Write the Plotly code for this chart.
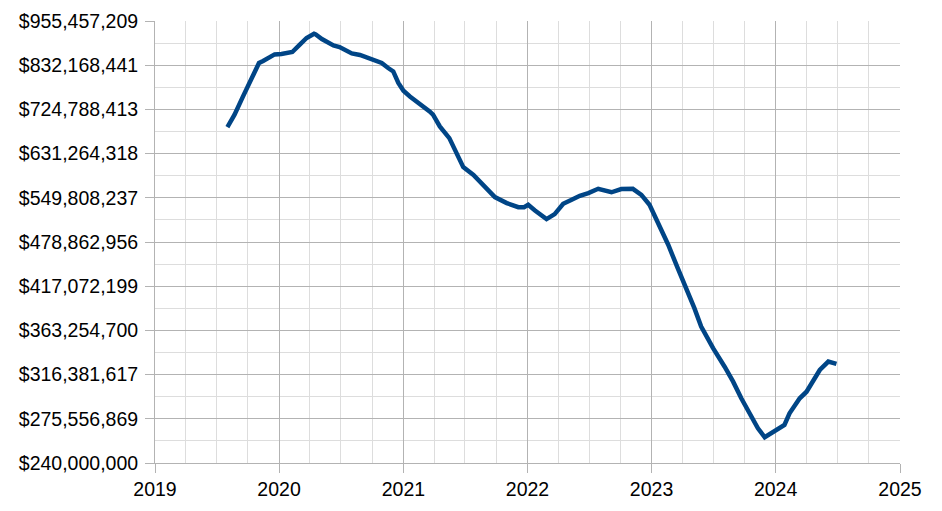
import plotly.graph_objects as go
import math

dates = [
    "2019-08-02", "2019-08-23", "2019-09-17", "2019-10-12", "2019-11-03", "2019-11-15",
    "2019-11-30", "2019-12-19", "2020-01-08", "2020-01-27", "2020-02-09", "2020-03-02",
    "2020-03-22", "2020-04-13", "2020-04-18", "2020-05-06", "2020-05-20", "2020-06-09",
    "2020-06-27", "2020-07-13", "2020-08-02", "2020-08-26", "2020-09-15", "2020-10-04",
    "2020-10-29", "2020-11-17", "2020-12-02", "2020-12-17", "2021-01-01", "2021-01-20",
    "2021-02-19", "2021-03-19", "2021-03-29", "2021-04-18", "2021-05-16", "2021-06-07",
    "2021-06-26", "2021-07-26", "2021-08-24", "2021-09-27", "2021-11-01", "2021-12-05",
    "2021-12-22", "2022-01-03", "2022-01-23", "2022-02-26", "2022-03-22", "2022-04-16",
    "2022-05-11", "2022-06-04", "2022-06-29", "2022-07-28", "2022-09-05", "2022-10-04",
    "2022-11-07", "2022-12-02", "2022-12-26", "2023-01-20", "2023-02-19", "2023-03-19",
    "2023-04-13", "2023-05-07", "2023-05-27", "2023-06-21", "2023-07-01", "2023-08-04",
    "2023-08-29", "2023-09-22", "2023-10-17", "2023-11-10", "2023-11-30", "2023-12-19",
    "2024-01-08", "2024-01-27", "2024-02-11", "2024-03-12", "2024-04-01", "2024-04-20",
    "2024-05-10", "2024-06-04", "2024-06-28",
]

values_millions = [
    685.9, 712.8, 754.8, 795.3, 837.9, 843.2,
    851.1, 860.8, 861.8, 864.5, 867.2, 887.2,
    906.0, 918.3, 916.3, 903.2, 894.8, 885.3,
    880.9, 871.6, 863.4, 859.1, 852.7, 846.6,
    837.9, 824.9, 816.2, 787.1, 768.4, 754.8,
    737.8, 720.2, 712.8, 687.1, 662.6, 628.8,
    605.1, 590.7, 570.7, 551.0, 540.8, 534.0,
    534.0, 537.9, 528.4, 514.4, 522.5, 539.6,
    546.4, 553.3, 558.0, 565.5, 559.4, 565.0,
    565.5, 555.0, 537.9, 508.0, 474.8, 441.2,
    414.6, 389.4, 367.6, 349.0, 343.6, 324.3,
    309.5, 293.8, 280.4, 267.5, 260.1, 263.4,
    266.1, 270.3, 280.4, 293.8, 299.9, 309.5,
    321.0, 329.5, 327.1,
]

y_tick_values = [
    240000000, 275556869, 316381617, 363254700, 417072199, 478862956,
    549808237, 631264318, 724788413, 832168441, 955457209,
]
y_tick_labels = ["$" + format(v, ",") for v in y_tick_values]

x_range = ["2019-01-01", "2025-01-01"]

values = [v * 1e6 for v in values_millions]

# minor gridlines at the geometric midpoints between major ticks
y_minor = [math.sqrt(a * b) for a, b in zip(y_tick_values[:-1], y_tick_values[1:])]

FONT = "Liberation Sans, Arial, sans-serif"
MAJOR = "#b3b3b3"
MINOR = "#dddddd"
FS = 19.5

fig = go.Figure()
fig.add_trace(go.Scatter(
    x=dates, y=values, mode="lines",
    line=dict(color="#004586", width=4.5, shape="linear"),
    showlegend=False, hoverinfo="x+y",
))

fig.update_layout(
    width=934, height=503,
    margin=dict(l=147, r=42, t=13, b=48, autoexpand=False),
    paper_bgcolor="white", plot_bgcolor="white",
    font=dict(family=FONT, size=FS, color="black"),
    showlegend=False,
)

fig.update_xaxes(
    type="date", range=x_range, automargin=False,
    tickmode="linear", tick0="2019-01-01", dtick="M12", tickformat="%Y",
    ticks="outside", ticklen=9, tickcolor=MAJOR, tickwidth=1,
    showgrid=True, gridcolor=MAJOR, gridwidth=1,
    showline=True, linecolor=MAJOR, linewidth=1,
    minor=dict(tick0="2019-01-01", dtick="M3", showgrid=True, gridcolor=MINOR, gridwidth=1, ticks=""),
    tickfont=dict(family=FONT, size=FS, color="black"),
    zeroline=False,
)

fig.update_yaxes(
    type="log", automargin=False,
    range=[math.log10(y_tick_values[0]), math.log10(y_tick_values[-1])],
    tickmode="array", tickvals=y_tick_values, ticktext=y_tick_labels,
    ticks="outside", ticklen=9, tickcolor=MAJOR, tickwidth=1,
    showgrid=True, gridcolor=MAJOR, gridwidth=1,
    showline=True, linecolor=MAJOR, linewidth=1,
    minor=dict(tickmode="array", tickvals=y_minor, showgrid=True, gridcolor=MINOR, gridwidth=1, ticks=""),
    tickfont=dict(family=FONT, size=FS, color="black"),
    ticklabelstandoff=3,
    zeroline=False,
)

fig.write_html("out.html")
